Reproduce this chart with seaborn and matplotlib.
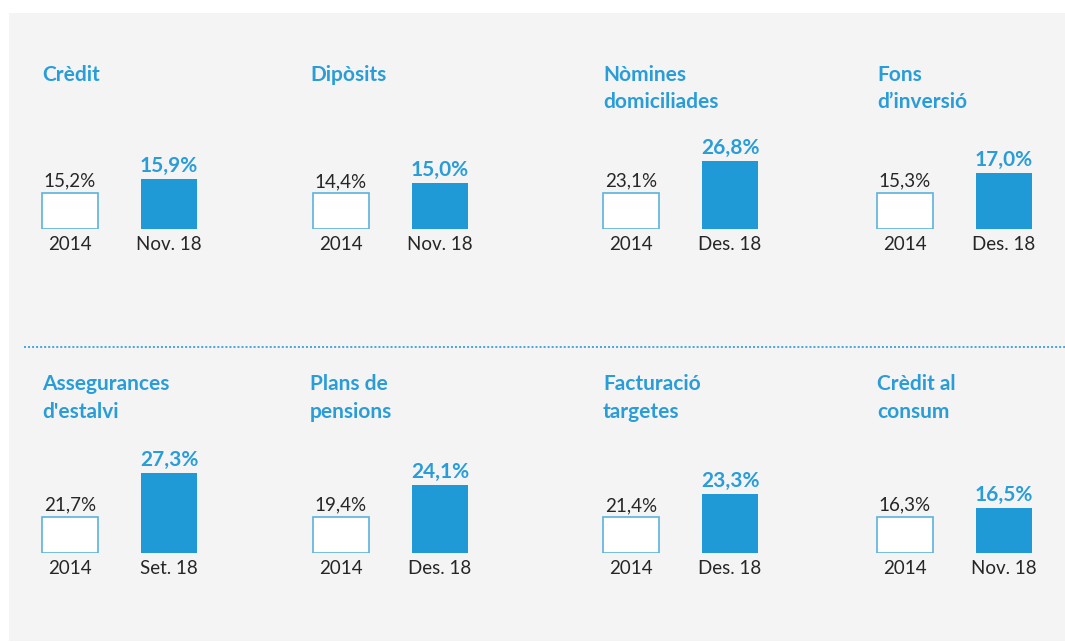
import matplotlib
matplotlib.use("Agg")
import matplotlib.pyplot as plt
from matplotlib.patches import Rectangle
from matplotlib.lines import Line2D
import pandas as pd
import seaborn as sns

sns.set_theme(style="white")
plt.rcParams["font.family"] = ["Lato", "DejaVu Sans"]

# Market share by product (%), 2014 vs latest month
titles = ["Crèdit", "Dipòsits", "Nòmines\ndomiciliades", "Fons\nd’inversió",
          "Assegurances\nd'estalvi", "Plans de\npensions", "Facturació\ntargetes",
          "Crèdit al\nconsum"]
base_period = ["2014"] * 8
latest_period = ["Nov. 18", "Nov. 18", "Des. 18", "Des. 18",
                 "Set. 18", "Des. 18", "Des. 18", "Nov. 18"]
share_2014 = [15.2, 14.4, 23.1, 15.3, 21.7, 19.4, 21.4, 16.3]
share_latest = [15.9, 15.0, 26.8, 17.0, 27.3, 24.1, 23.3, 16.5]

# Each small panel uses its own truncated value axis
axis_floor = [13.4, 12.25, 18.95, 12.25, 17.1, 14.1, 18.45, 15.5]
axis_ceiling = [18.4, 18.25, 30.5, 20.75, 29.85, 28.8, 26.7, 17.7]

BLUE = "#1f9ad6"
TITLE_BLUE = "#2a9dd8"
OUTLINE = "#5bb3de"
TEXT = "#262626"

W, H = 1065, 642
fig = plt.figure(figsize=(W / 100, H / 100), dpi=100, facecolor="white")

# light grey card behind the panels
fig.patches.append(Rectangle((9 / W, 1 / H), 1 - 9 / W, (H - 14) / H,
                             transform=fig.transFigure, facecolor="#f4f4f4",
                             edgecolor="none", zorder=-5))

# dotted separator between the two rows
fig.add_artist(Line2D([24 / W, 1.0], [(H - 347) / H] * 2, transform=fig.transFigure,
                      color="#4ea9da", lw=1.45, linestyle=(0, (1, 1)),
                      dash_capstyle="butt"))

col_left = [42, 313, 603, 877]
title_x = [42, 310, 603, 877]
row_base = [229, 553]
title_base = [81, 390]
line_gap = 27.5
unit_px = 99
bar_px = 56
ax_h = 100

for i, title in enumerate(titles):
    r, c = divmod(i, 4)
    left = col_left[c] + bar_px / 2 - unit_px / 2
    ax = fig.add_axes([left / W, (H - row_base[r]) / H, 2 * unit_px / W, ax_h / H])
    ax.set_facecolor("none")

    df = pd.DataFrame({"period": [base_period[i], latest_period[i]],
                       "share": [share_2014[i], share_latest[i]]})
    sns.barplot(data=df, x="period", y="share", ax=ax, color=BLUE,
                width=bar_px / unit_px, errorbar=None,
                order=[base_period[i], latest_period[i]])

    floor = axis_floor[i]
    vals = [share_2014[i], share_latest[i]]
    for k, (patch, v) in enumerate(zip(ax.patches, vals)):
        patch.set_y(floor)
        patch.set_height(v - floor)
        if k == 0:
            patch.set_facecolor("white")
            patch.set_edgecolor(OUTLINE)
            patch.set_linewidth(1.2)
        else:
            patch.set_facecolor(BLUE)
            patch.set_edgecolor("none")

    ax.set_xlim(-0.5, 1.5)
    ax.set_ylim(floor, axis_ceiling[i])
    ax.set_yticks([])
    ax.set_xlabel("")
    ax.set_ylabel("")
    for s in ax.spines.values():
        s.set_visible(False)
    ax.tick_params(axis="x", length=0, pad=5, labelsize=13.5, labelcolor=TEXT)

    # value labels
    ax.annotate(f"{share_2014[i]:.1f}".replace(".", ",") + "%", (0, share_2014[i]),
                xytext=(0, 4.5), textcoords="offset points", ha="center",
                va="baseline", fontsize=13.5, color=TEXT)
    ax.annotate(f"{share_latest[i]:.1f}".replace(".", ",") + "%", (1, share_latest[i]),
                xytext=(0, 5), textcoords="offset points", ha="center",
                va="baseline", fontsize=15, fontweight="bold", color=TITLE_BLUE)

    # panel title, one line at a time
    for j, line in enumerate(title.split("\n")):
        fig.text(title_x[c] / W, (H - title_base[r] - j * line_gap) / H, line,
                 ha="left", va="baseline", fontsize=15, fontweight="bold",
                 color=TITLE_BLUE)

fig.savefig("out.png", dpi=100)
